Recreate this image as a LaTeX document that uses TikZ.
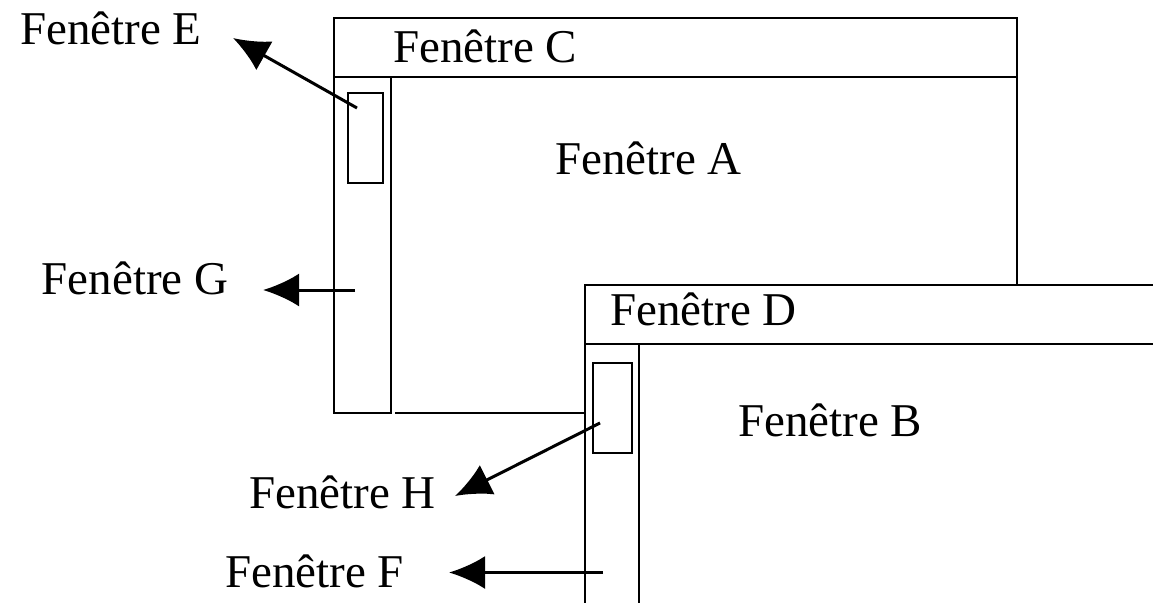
\documentclass[tikz,border=0pt]{standalone}
\usepackage{fontspec}
\setmainfont{Liberation Serif}
\usetikzlibrary{arrows.meta}
\tikzset{
  frame/.style={line width=2.4pt, black},
  pointer/.style={line width=3pt, black, -{Latex[length=36pt,width=33pt]}},
  lbl/.style={inner sep=0pt, anchor=base west, font=\fontsize{47}{56}\selectfont}
}
\begin{document}
\begin{tikzpicture}[x=1pt,y=-1pt]
\useasboundingbox (0,0) rectangle (1153,603);
\clip (0,0) rectangle (1153,603);
% Window C / A
\draw[frame] (334,18) rectangle (1017,77);
\draw[frame] (1017,77) -- (1017,285);
\draw[frame] (391,77) -- (391,413) -- (334,413) -- (334,77);
\draw[frame] (395,413) -- (585,413);
\draw[frame] (348,93) rectangle (383,183);
% Window D / B
\draw[frame] (1153,285) -- (585,285) -- (585,603);
\draw[frame] (585,344) -- (1153,344);
\draw[frame] (639,344) -- (639,603);
\draw[frame] (593,363) rectangle (632,453);
% labels
\node[lbl] (lE) at (20,44) {Fenêtre E};
\node[lbl] (lC) at (393,62.5) {Fenêtre C};
\node[lbl] (lA) at (555,174.5) {Fenêtre A};
\node[lbl] (lG) at (41.5,294) {Fenêtre G};
\node[lbl] (lD) at (610,325) {Fenêtre D};
\node[lbl] (lB) at (738,436) {Fenêtre B};
\node[lbl] (lH) at (249,508) {Fenêtre H};
\node[lbl] (lF) at (225,587) {Fenêtre F};
% arrow coordinates
\coordinate (sE) at (357,108);
\coordinate (tE) at (233,38);
\coordinate (sG) at (355,290);
\coordinate (tG) at (263,290);
\coordinate (sH) at (600,423);
\coordinate (tH) at (455,496);
\coordinate (sF) at (603,572.5);
\coordinate (tF) at (449,572.5);
\draw[pointer] (sE) -- (tE);
\draw[pointer] (sG) -- (tG);
\draw[pointer] (sH) -- (tH);
\draw[pointer] (sF) -- (tF);
\end{tikzpicture}
\end{document}
